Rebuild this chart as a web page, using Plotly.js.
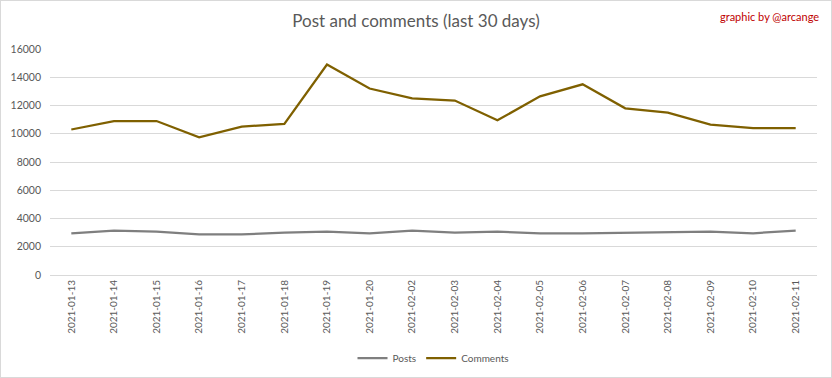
<!DOCTYPE html>
<html>
<head>
<meta charset="utf-8">
<script src="https://cdn.plot.ly/plotly-3.0.1.min.js"></script>
<style>
html,body{margin:0;padding:0;background:#fff;}
#chart{width:830px;height:376px;border:1px solid #d9d9d9;}
</style>
</head>
<body>
<div id="chart"></div>
<script>
const dates = ["2021-01-13","2021-01-14","2021-01-15","2021-01-16","2021-01-17","2021-01-18","2021-01-19","2021-01-20","2021-02-02","2021-02-03","2021-02-04","2021-02-05","2021-02-06","2021-02-07","2021-02-08","2021-02-09","2021-02-10","2021-02-11"];
const posts = [2950,3150,3070,2870,2870,3000,3070,2950,3150,3000,3070,2950,2950,3000,3000,3070,2950,3150];
const comments = [10300,10900,10900,9750,10500,10700,14900,13200,12500,12350,10950,12650,13500,11800,11500,10650,10400,10400];
const yTicks = [0,2000,4000,6000,8000,10000,12000,14000,16000];

const FONT = "Lato, 'Open Sans', sans-serif";
const traces = [
  {x: dates, y: posts, name: "Posts", type: "scatter", mode: "lines",
   line: {color: "#7f7f7f", width: 2.25}},
  {x: dates, y: comments, name: "Comments", type: "scatter", mode: "lines",
   line: {color: "#7f6000", width: 2.25}}
];
const layout = {
  width: 830, height: 376,
  margin: {l: 49, r: 14, t: 48, b: 102},
  paper_bgcolor: "#fff", plot_bgcolor: "#fff",
  font: {family: FONT, color: "#595959", size: 10},
  title: {text: "Post and comments (last 30 days)", font: {size: 17, color: "#595959", family: FONT},
          x: 0.5, xanchor: "center", y: 1 - 20/376, yref: "container", yanchor: "middle"},
  xaxis: {type: "category", range: [-0.5, dates.length - 0.5], tickangle: -90,
          showgrid: false, showline: true, linecolor: "#d9d9d9", linewidth: 1,
          ticks: "", tickfont: {size: 10, color: "#595959"}, fixedrange: true},
  yaxis: {range: [0, 16000], tickvals: yTicks, ticktext: yTicks.map(String),
          showgrid: true, gridcolor: "#d9d9d9", gridwidth: 1, zeroline: false,
          showline: false, ticks: "", ticklabelstandoff: 8,
          tickfont: {size: 10.5, color: "#595959"}, fixedrange: true},
  showlegend: true,
  legend: {orientation: "h", x: 0.5, xanchor: "center", y: 1 - 357/376, yref: "container", yanchor: "middle",
           font: {size: 10, color: "#595959"}, itemwidth: 30},
  annotations: [{text: "graphic by @arcange", xref: "paper", yref: "paper",
                 x: (820-49)/767, xanchor: "right", y: (274-15)/226, yanchor: "middle",
                 showarrow: false, font: {size: 11, color: "#c00000", family: FONT}}]
};
Plotly.newPlot("chart", traces, layout, {displayModeBar: false, staticPlot: true});
</script>
</body>
</html>
